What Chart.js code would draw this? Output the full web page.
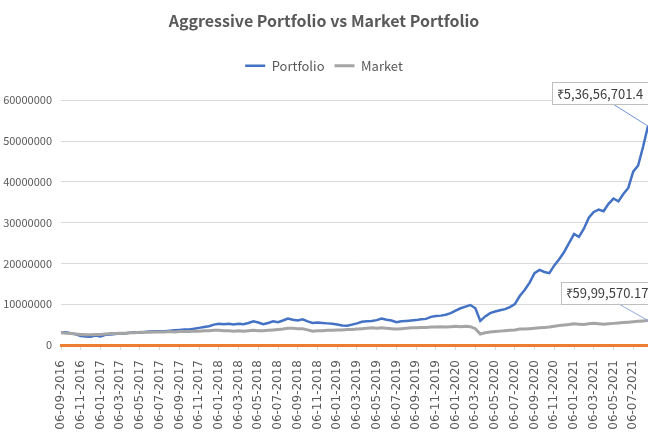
<!DOCTYPE html>
<html>
<head>
<meta charset="utf-8">
<script src="https://cdn.jsdelivr.net/npm/chart.js@4.4.1/dist/chart.umd.min.js"></script>
<style>
  html, body { margin: 0; padding: 0; background: #fff; }
  #wrap { width: 648px; height: 437px; }
</style>
</head>
<body>
<div id="wrap"><canvas id="chart" width="648" height="437"></canvas></div>
<script>
// dates: the 6th and 21st of each month, Sep 2016 .. Aug 2021
const categories = [];
for (let k = 0; k < 60; k++) {
  const m = (8 + k) % 12 + 1;
  const y = 2016 + Math.floor((8 + k) / 12);
  const mm = String(m).padStart(2, '0');
  categories.push('06-' + mm + '-' + y, '21-' + mm + '-' + y);
}

const tickLabels = [
  '06-09-2016', '06-11-2016', '06-01-2017', '06-03-2017', '06-05-2017', '06-07-2017',
  '06-09-2017', '06-11-2017', '06-01-2018', '06-03-2018', '06-05-2018', '06-07-2018',
  '06-09-2018', '06-11-2018', '06-01-2019', '06-03-2019', '06-05-2019', '06-07-2019',
  '06-09-2019', '06-11-2019', '06-01-2020', '06-03-2020', '06-05-2020', '06-07-2020',
  '06-09-2020', '06-11-2020', '06-01-2021', '06-03-2021', '06-05-2021', '06-07-2021'
];

const portfolio = [
  3000000, 3100000, 2900000, 2600000, 2200000, 2100000, 2000000, 2300000, 2100000, 2500000,
  2600000, 2700000, 2900000, 2800000, 3000000, 3100000, 3000000, 3200000, 3300000, 3400000,
  3400000, 3400000, 3500000, 3600000, 3700000, 3800000, 3800000, 4000000, 4200000, 4400000,
  4600000, 5000000, 5200000, 5100000, 5200000, 5000000, 5200000, 5100000, 5400000, 5800000,
  5500000, 5100000, 5400000, 5800000, 5600000, 6000000, 6500000, 6200000, 6000000, 6300000,
  5800000, 5400000, 5500000, 5400000, 5300000, 5200000, 5000000, 4800000, 4700000, 5000000,
  5300000, 5700000, 5800000, 5900000, 6100000, 6500000, 6200000, 6000000, 5600000, 5800000,
  5900000, 6000000, 6100000, 6300000, 6400000, 6900000, 7100000, 7200000, 7400000, 7800000,
  8400000, 9000000, 9400000, 9800000, 9000000, 5900000, 7000000, 7800000, 8200000, 8500000,
  8800000, 9300000, 10000000, 12000000, 13500000, 15300000, 17600000, 18400000, 17900000, 17600000,
  19500000, 21000000, 22800000, 25000000, 27200000, 26500000, 28500000, 31200000, 32600000, 33200000,
  32800000, 34600000, 35900000, 35200000, 37000000, 38500000, 42500000, 44000000, 48600000, 53656701.4
];

const market = [
  3000000, 2900000, 2800000, 2700000, 2600000, 2500000, 2500000, 2600000, 2600000, 2700000,
  2800000, 2800000, 2900000, 2900000, 3000000, 3000000, 3100000, 3100000, 3100000, 3200000,
  3200000, 3200000, 3300000, 3200000, 3300000, 3300000, 3300000, 3400000, 3400000, 3500000,
  3500000, 3600000, 3600000, 3500000, 3500000, 3400000, 3500000, 3400000, 3500000, 3600000,
  3500000, 3500000, 3600000, 3700000, 3800000, 3900000, 4100000, 4100000, 4000000, 4000000,
  3700000, 3400000, 3500000, 3500000, 3600000, 3600000, 3700000, 3700000, 3800000, 3800000,
  3900000, 4000000, 4100000, 4200000, 4100000, 4200000, 4100000, 4000000, 3900000, 4000000,
  4100000, 4200000, 4200000, 4300000, 4300000, 4400000, 4400000, 4500000, 4400000, 4500000,
  4600000, 4500000, 4600000, 4500000, 4000000, 2700000, 3000000, 3200000, 3300000, 3400000,
  3500000, 3600000, 3700000, 3900000, 3900000, 4000000, 4100000, 4200000, 4300000, 4400000,
  4600000, 4800000, 4900000, 5000000, 5200000, 5100000, 5000000, 5200000, 5300000, 5200000,
  5100000, 5200000, 5300000, 5400000, 5500000, 5600000, 5700000, 5800000, 5900000, 5999570.17
];

const yTicks = [0, 10000000, 20000000, 30000000, 40000000, 50000000, 60000000];

const FONT = "'Noto Sans CJK JP', 'Liberation Sans', sans-serif";

// Indian digit grouping: 5,36,56,701.4
function rupees(v) {
  const parts = String(v).split('.');
  let int = parts[0];
  let last3 = int.slice(-3);
  let rest = int.slice(0, -3);
  if (rest) last3 = ',' + last3;
  rest = rest.replace(/\B(?=(\d{2})+(?!\d))/g, ',');
  return '₹' + rest + last3 + (parts[1] ? '.' + parts[1] : '');
}

// value callouts at the last point of each line
const callouts = {
  id: 'callouts',
  afterDatasetsDraw(chart, args, opts) {
    const ctx = chart.ctx;
    ctx.save();
    ctx.font = '13px ' + FONT;
    opts.items.forEach(it => {
      const meta = chart.getDatasetMeta(it.dataset);
      const pt = meta.data[meta.data.length - 1];
      const vals = chart.data.datasets[it.dataset].data;
      const text = rupees(vals[vals.length - 1]);
      const w = ctx.measureText(text).width + 10;
      const h = 22;
      const cx = pt.x + it.dx, cy = pt.y + it.dy;
      // leader line
      ctx.strokeStyle = it.lineColor;
      ctx.lineWidth = 1;
      ctx.beginPath();
      ctx.moveTo(cx + it.lx, cy + h / 2);
      ctx.lineTo(pt.x, pt.y);
      ctx.stroke();
      // box
      ctx.fillStyle = '#ffffff';
      ctx.fillRect(cx - w / 2, cy - h / 2, w, h);
      ctx.strokeStyle = '#BFBFBF';
      ctx.strokeRect(Math.round(cx - w / 2) + 0.5, Math.round(cy - h / 2) + 0.5, Math.round(w), h);
      ctx.fillStyle = '#404040';
      ctx.textAlign = 'center';
      ctx.textBaseline = 'middle';
      ctx.fillText(text, cx, cy + 1);
    });
    ctx.restore();
  }
};

Chart.defaults.font.family = FONT;
Chart.defaults.color = '#595959';

new Chart(document.getElementById('chart'), {
  type: 'line',
  data: {
    labels: categories,
    datasets: [
      {
        label: 'Portfolio',
        data: portfolio,
        borderColor: '#4472C4',
        backgroundColor: '#4472C4',
        borderWidth: 2.5,
        pointRadius: 0,
        tension: 0,
        order: 1
      },
      {
        label: 'Market',
        data: market,
        borderColor: '#A5A5A5',
        backgroundColor: '#A5A5A5',
        borderWidth: 3,
        pointRadius: 0,
        tension: 0,
        order: 0
      }
    ]
  },
  options: {
    responsive: false,
    animation: false,
    layout: { padding: 0 },
    plugins: {
      title: {
        display: true,
        text: 'Aggressive Portfolio vs Market Portfolio',
        color: '#595959',
        font: { size: 16, weight: 'bold' },
        padding: { top: 11, bottom: 19 }
      },
      // empty spacer between the legend and the plot
      subtitle: {
        display: true,
        text: '',
        weight: 500,
        padding: 0,
        font: { size: 18, lineHeight: 1 }
      },
      legend: {
        position: 'top',
        labels: {
          usePointStyle: true,
          pointStyle: 'line',
          pointStyleWidth: 20,
          padding: 10,
          color: '#595959',
          font: { size: 13 },
          sort: (a, b) => a.datasetIndex - b.datasetIndex
        }
      },
      tooltip: { enabled: false },
      callouts: {
        items: [
          { dataset: 0, dx: -48, dy: -33, lx: 13, lineColor: '#6F94D6' },
          { dataset: 1, dx: -41, dy: -28, lx: 11, lineColor: '#8FAADC' }
        ]
      }
    },
    scales: {
      x: {
        type: 'category',
        grid: {
          display: true,
          drawOnChartArea: false,
          color: '#D9D9D9',
          tickLength: 5
        },
        border: { display: true, color: '#ED7D31', width: 3 },
        ticks: {
          autoSkip: false,
          maxRotation: 90,
          minRotation: 90,
          padding: 10,
          color: '#595959',
          font: { family: "'DejaVu Sans', sans-serif", size: 12 },
          callback: function (v) {
            const lab = this.getLabelForValue(v);
            return tickLabels.includes(lab) ? lab : null;
          }
        },
        afterFit: s => { s.height = 92; s.paddingLeft = 0; s.paddingRight = 0; }
      },
      y: {
        min: 0,
        max: 60000000,
        afterBuildTicks: s => { s.ticks = yTicks.map(v => ({ value: v })); },
        grid: { color: '#D9D9D9', drawTicks: false },
        border: { display: false },
        ticks: {
          padding: 9,
          color: '#595959',
          font: { size: 11 },
          callback: v => String(v)
        },
        afterFit: s => { s.width = 61; }
      }
    }
  },
  plugins: [callouts]
});
</script>
</body>
</html>
